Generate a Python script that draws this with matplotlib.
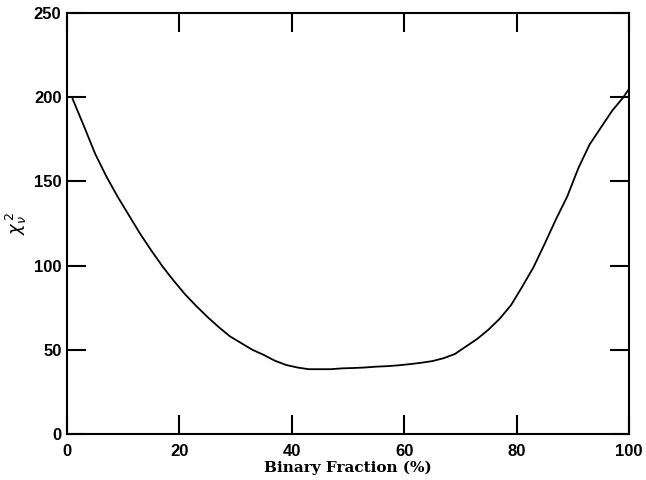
import matplotlib
matplotlib.use("Agg")
import matplotlib.pyplot as plt

binary_fraction = [1, 3, 5, 7, 9, 11, 13, 15, 17, 19, 21, 23, 25, 27, 29, 31, 33, 35,
                   37, 39, 41, 43, 45, 47, 49, 51, 53, 55, 57, 59, 61, 63, 65, 67, 69,
                   71, 73, 75, 77, 79, 81, 83, 85, 87, 89, 91, 93, 95, 97, 99, 100]
chi2 = [199, 183, 166.5, 153, 141, 130, 119, 109, 99.5, 91, 83, 76, 69.5, 63.5, 58, 54, 50, 47,
        43.5, 41, 39.5, 38.5, 38.5, 38.5, 39, 39.2, 39.5, 40, 40.3, 40.8, 41.5, 42.3, 43.3,
        45, 47.5, 52, 56.5, 62, 68.5, 76.5, 87.5, 99, 113, 127.5, 141, 158, 172, 182, 192, 200, 205]
x_ticks = [0, 20, 40, 60, 80, 100]
y_ticks = [0, 50, 100, 150, 200, 250]

fig = plt.figure(figsize=(6.46, 4.8), dpi=100)
ax = fig.add_axes([0.1037, 0.0958, 0.87, 0.877])
ax.plot(binary_fraction, chi2, color="black", lw=1.3)
ax.set_xlim(0, 100)
ax.set_ylim(0, 250)
ax.set_xticks(x_ticks)
ax.set_yticks(y_ticks)
ax.tick_params(direction="in", length=14, width=1.5, top=True, right=True,
               labelsize=12)
ax.tick_params(axis="x", pad=7)
ax.tick_params(axis="y", pad=4)
for lab in ax.get_xticklabels() + ax.get_yticklabels():
    lab.set_fontfamily("Liberation Sans")
    lab.set_fontweight("bold")
for s in ax.spines.values():
    s.set_linewidth(1.5)
ax.set_xlabel("Binary Fraction (%)", fontfamily="DejaVu Serif", fontweight="bold",
              fontsize=11, labelpad=1)
ax.set_ylabel(r"$\boldsymbol{\chi_\nu^{\,2}}$", fontsize=13)
ax.yaxis.set_label_coords(-0.068, 0.5)
fig.savefig("out.png", dpi=100)
